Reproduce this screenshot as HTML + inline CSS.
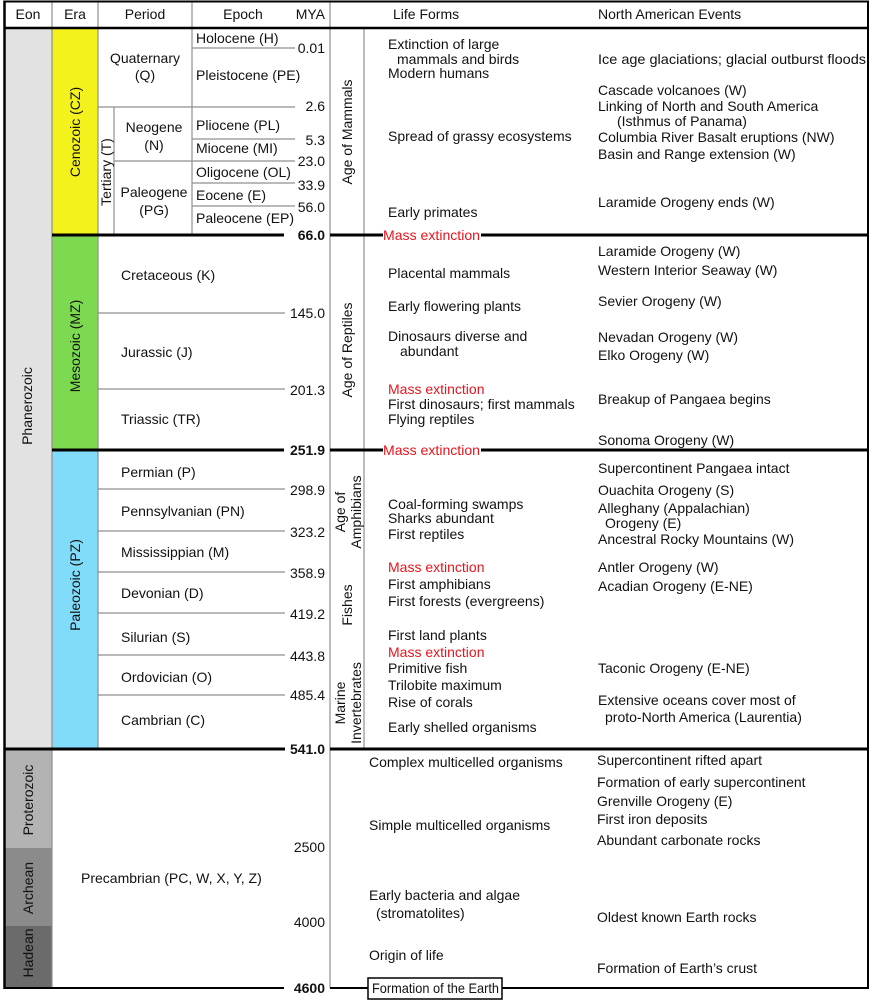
<!DOCTYPE html>
<html><head><meta charset="utf-8"><style>
html,body{margin:0;padding:0;background:#fff;}
svg{display:block;}
text{font-family:"Liberation Sans",Arial,sans-serif;font-size:14px;fill:#111;}
.b{font-weight:bold;}
.r{fill:#e8141c;}
.e{text-anchor:end;}
.m{text-anchor:middle;}
</style></head><body>
<svg width="872" height="1000" viewBox="0 0 872 1000" xmlns="http://www.w3.org/2000/svg">
<rect x="0" y="0" width="872" height="1000" fill="#fff"/>
<!-- colored columns -->
<rect x="4" y="28" width="48" height="721" fill="#e2e2e2"/>
<rect x="52" y="28" width="46" height="207" fill="#f4f21c"/>
<rect x="52" y="235" width="46" height="215" fill="#7dd94f"/>
<rect x="52" y="450" width="46" height="299" fill="#80dcf9"/>
<rect x="4" y="749" width="48" height="99" fill="#b3b3b3"/>
<rect x="4" y="848" width="48" height="78" fill="#8b8b8b"/>
<rect x="4" y="926" width="48" height="62" fill="#6b6b6b"/>
<!-- gray verticals -->
<g stroke="#8f8f8f" stroke-width="1.2" fill="none">
<line x1="52" y1="1" x2="52" y2="988"/>
<line x1="98" y1="1" x2="98" y2="749"/>
<line x1="192" y1="1" x2="192" y2="235"/>
<line x1="114" y1="107" x2="114" y2="235"/>
<line x1="330" y1="1" x2="330" y2="988"/>
<line x1="364" y1="28" x2="364" y2="749"/>
<!-- thin horizontals -->
<line x1="192" y1="48" x2="295" y2="48"/>
<line x1="98" y1="107" x2="295" y2="107"/>
<line x1="192" y1="139" x2="295" y2="139"/>
<line x1="114" y1="161" x2="295" y2="161"/>
<line x1="192" y1="183" x2="295" y2="183"/>
<line x1="192" y1="206" x2="295" y2="206"/>
<line x1="98" y1="313" x2="285" y2="313"/>
<line x1="98" y1="389" x2="285" y2="389"/>
<line x1="98" y1="489" x2="285" y2="489"/>
<line x1="98" y1="531" x2="285" y2="531"/>
<line x1="98" y1="572" x2="285" y2="572"/>
<line x1="98" y1="613" x2="285" y2="613"/>
<line x1="98" y1="655" x2="285" y2="655"/>
<line x1="98" y1="695" x2="285" y2="695"/>
</g>
<!-- thick lines -->
<g stroke="#000" fill="none">
<line x1="4" y1="1.5" x2="868" y2="1.5" stroke-width="2"/>
<line x1="4" y1="28" x2="868" y2="28" stroke-width="2.5"/>
<line x1="4.5" y1="0.5" x2="4.5" y2="989" stroke-width="2.5"/>
<line x1="868" y1="0.5" x2="868" y2="989" stroke-width="2"/>
<line x1="52" y1="235" x2="284" y2="235" stroke-width="3"/>
<line x1="330" y1="235" x2="383" y2="235" stroke-width="3"/>
<line x1="481" y1="235" x2="868" y2="235" stroke-width="3"/>
<line x1="52" y1="450" x2="284" y2="450" stroke-width="3"/>
<line x1="330" y1="450" x2="383" y2="450" stroke-width="3"/>
<line x1="481" y1="450" x2="868" y2="450" stroke-width="3"/>
<line x1="4" y1="749" x2="285" y2="749" stroke-width="3"/>
<line x1="330" y1="749" x2="868" y2="749" stroke-width="3"/>
<line x1="4" y1="988" x2="284" y2="988" stroke-width="2"/>
<line x1="330" y1="988" x2="868" y2="988" stroke-width="2"/>
</g>
<rect x="368" y="978" width="134" height="21" fill="#fff" stroke="#000" stroke-width="1.5"/>
<text x="372" y="993" textLength="127" lengthAdjust="spacingAndGlyphs">Formation of the Earth</text>

<!-- header -->
<text class="m" x="28" y="19">Eon</text>
<text class="m" x="75" y="19">Era</text>
<text class="m" x="145" y="19">Period</text>
<text class="m" x="243" y="19">Epoch</text>
<text class="e" x="325" y="19">MYA</text>
<text x="393" y="19">Life Forms</text>
<text x="598" y="19">North American Events</text>

<!-- rotated labels -->
<text class="m" transform="translate(32,406) rotate(-90)">Phanerozoic</text>
<text class="m" transform="translate(80,132) rotate(-90)">Cenozoic (CZ)</text>
<text class="m" transform="translate(80,346) rotate(-90)">Mesozoic (MZ)</text>
<text class="m" transform="translate(80,585) rotate(-90)">Paleozoic (PZ)</text>
<text class="m" transform="translate(111,172) rotate(-90)">Tertiary (T)</text>
<text class="m" transform="translate(33,800) rotate(-90)">Proterozoic</text>
<text class="m" transform="translate(33,888) rotate(-90)">Archean</text>
<text class="m" transform="translate(33,953) rotate(-90)">Hadean</text>
<text class="m" transform="translate(352,132) rotate(-90)">Age of Mammals</text>
<text class="m" transform="translate(352,350) rotate(-90)">Age of Reptiles</text>
<text class="m" transform="translate(345,512) rotate(-90)">Age of</text>
<text class="m" transform="translate(361,512) rotate(-90)">Amphibians</text>
<text class="m" transform="translate(352,605) rotate(-90)">Fishes</text>
<text class="m" transform="translate(345,703) rotate(-90)">Marine</text>
<text class="m" transform="translate(361,703) rotate(-90)">Invertebrates</text>

<!-- periods/epochs -->
<text x="196" y="43">Holocene (H)</text>
<text x="196" y="80">Pleistocene (PE)</text>
<text class="m" x="145" y="63">Quaternary</text>
<text class="m" x="145" y="80">(Q)</text>
<text class="m" x="154" y="132">Neogene</text>
<text class="m" x="154" y="150">(N)</text>
<text x="196" y="130">Pliocene (PL)</text>
<text x="196" y="153">Miocene (MI)</text>
<text x="196" y="177">Oligocene (OL)</text>
<text x="196" y="200">Eocene (E)</text>
<text x="196" y="223">Paleocene (EP)</text>
<text class="m" x="154" y="197">Paleogene</text>
<text class="m" x="154" y="215">(PG)</text>
<text x="121" y="280">Cretaceous (K)</text>
<text x="121" y="357">Jurassic (J)</text>
<text x="121" y="424">Triassic (TR)</text>
<text x="121" y="477">Permian (P)</text>
<text x="121" y="516">Pennsylvanian (PN)</text>
<text x="121" y="557">Mississippian (M)</text>
<text x="121" y="598">Devonian (D)</text>
<text x="121" y="642">Silurian (S)</text>
<text x="121" y="682">Ordovician (O)</text>
<text x="121" y="725">Cambrian (C)</text>
<text x="81" y="883">Precambrian (PC, W, X, Y, Z)</text>

<!-- MYA -->
<text class="e" x="325" y="53">0.01</text>
<text class="e" x="325" y="111">2.6</text>
<text class="e" x="325" y="145">5.3</text>
<text class="e" x="325" y="166">23.0</text>
<text class="e" x="325" y="190">33.9</text>
<text class="e" x="325" y="212">56.0</text>
<text class="e b" x="325" y="240">66.0</text>
<text class="e" x="325" y="318">145.0</text>
<text class="e" x="325" y="395">201.3</text>
<text class="e b" x="325" y="455">251.9</text>
<text class="e" x="325" y="495">298.9</text>
<text class="e" x="325" y="537">323.2</text>
<text class="e" x="325" y="578">358.9</text>
<text class="e" x="325" y="619">419.2</text>
<text class="e" x="325" y="661">443.8</text>
<text class="e" x="325" y="700">485.4</text>
<text class="e b" x="325" y="754">541.0</text>
<text class="e" x="325" y="852">2500</text>
<text class="e" x="325" y="927">4000</text>
<text class="e b" x="325" y="993">4600</text>

<!-- mass extinction on lines -->
<text class="r" x="383" y="240" textLength="97" lengthAdjust="spacingAndGlyphs">Mass extinction</text>
<text class="r" x="383" y="455" textLength="97" lengthAdjust="spacingAndGlyphs">Mass extinction</text>

<!-- Cenozoic life -->
<text x="388" y="49">Extinction of large</text>
<text x="397" y="64">mammals and birds</text>
<text x="388" y="78">Modern humans</text>
<text x="388" y="141">Spread of grassy ecosystems</text>
<text x="388" y="217">Early primates</text>
<!-- Cenozoic NA -->
<text x="598" y="64" textLength="268" lengthAdjust="spacingAndGlyphs">Ice age glaciations; glacial outburst floods</text>
<text x="598" y="95">Cascade volcanoes (W)</text>
<text x="598" y="111">Linking of North and South America</text>
<text x="617" y="126">(Isthmus of Panama)</text>
<text x="598" y="142">Columbia River Basalt eruptions (NW)</text>
<text x="598" y="159">Basin and Range extension (W)</text>
<text x="598" y="207">Laramide Orogeny ends (W)</text>

<!-- Mesozoic life -->
<text x="388" y="278">Placental mammals</text>
<text x="388" y="311">Early flowering plants</text>
<text x="388" y="341">Dinosaurs diverse and</text>
<text x="400" y="356">abundant</text>
<text class="r" x="388" y="394">Mass extinction</text>
<text x="388" y="409">First dinosaurs; first mammals</text>
<text x="388" y="424">Flying reptiles</text>
<!-- Mesozoic NA -->
<text x="598" y="256">Laramide Orogeny (W)</text>
<text x="598" y="275">Western Interior Seaway (W)</text>
<text x="598" y="306">Sevier Orogeny (W)</text>
<text x="598" y="342">Nevadan Orogeny (W)</text>
<text x="598" y="360">Elko Orogeny (W)</text>
<text x="598" y="404">Breakup of Pangaea begins</text>
<text x="598" y="445">Sonoma Orogeny (W)</text>

<!-- Paleozoic life -->
<text x="388" y="509">Coal-forming swamps</text>
<text x="388" y="523">Sharks abundant</text>
<text x="388" y="539">First reptiles</text>
<text class="r" x="388" y="572">Mass extinction</text>
<text x="388" y="589">First amphibians</text>
<text x="388" y="606">First forests (evergreens)</text>
<text x="388" y="640">First land plants</text>
<text class="r" x="388" y="657">Mass extinction</text>
<text x="388" y="673">Primitive fish</text>
<text x="388" y="690">Trilobite maximum</text>
<text x="388" y="707">Rise of corals</text>
<text x="388" y="732">Early shelled organisms</text>
<!-- Paleozoic NA -->
<text x="598" y="473">Supercontinent Pangaea intact</text>
<text x="598" y="495">Ouachita Orogeny (S)</text>
<text x="598" y="513">Alleghany (Appalachian)</text>
<text x="605" y="528">Orogeny (E)</text>
<text x="598" y="544">Ancestral Rocky Mountains (W)</text>
<text x="598" y="572">Antler Orogeny (W)</text>
<text x="598" y="591">Acadian Orogeny (E-NE)</text>
<text x="598" y="673">Taconic Orogeny (E-NE)</text>
<text x="598" y="705">Extensive oceans cover most of</text>
<text x="605" y="722">proto-North America (Laurentia)</text>

<!-- Precambrian life -->
<text x="369" y="767">Complex multicelled organisms</text>
<text x="369" y="830">Simple multicelled organisms</text>
<text x="369" y="900">Early bacteria and algae</text>
<text x="376" y="918">(stromatolites)</text>
<text x="369" y="960">Origin of life</text>
<!-- Precambrian NA -->
<text x="597" y="765">Supercontinent rifted apart</text>
<text x="597" y="787">Formation of early supercontinent</text>
<text x="597" y="806">Grenville Orogeny (E)</text>
<text x="597" y="824">First iron deposits</text>
<text x="597" y="845">Abundant carbonate rocks</text>
<text x="597" y="922">Oldest known Earth rocks</text>
<text x="597" y="973">Formation of Earth’s crust</text>
</svg>
</body></html>
